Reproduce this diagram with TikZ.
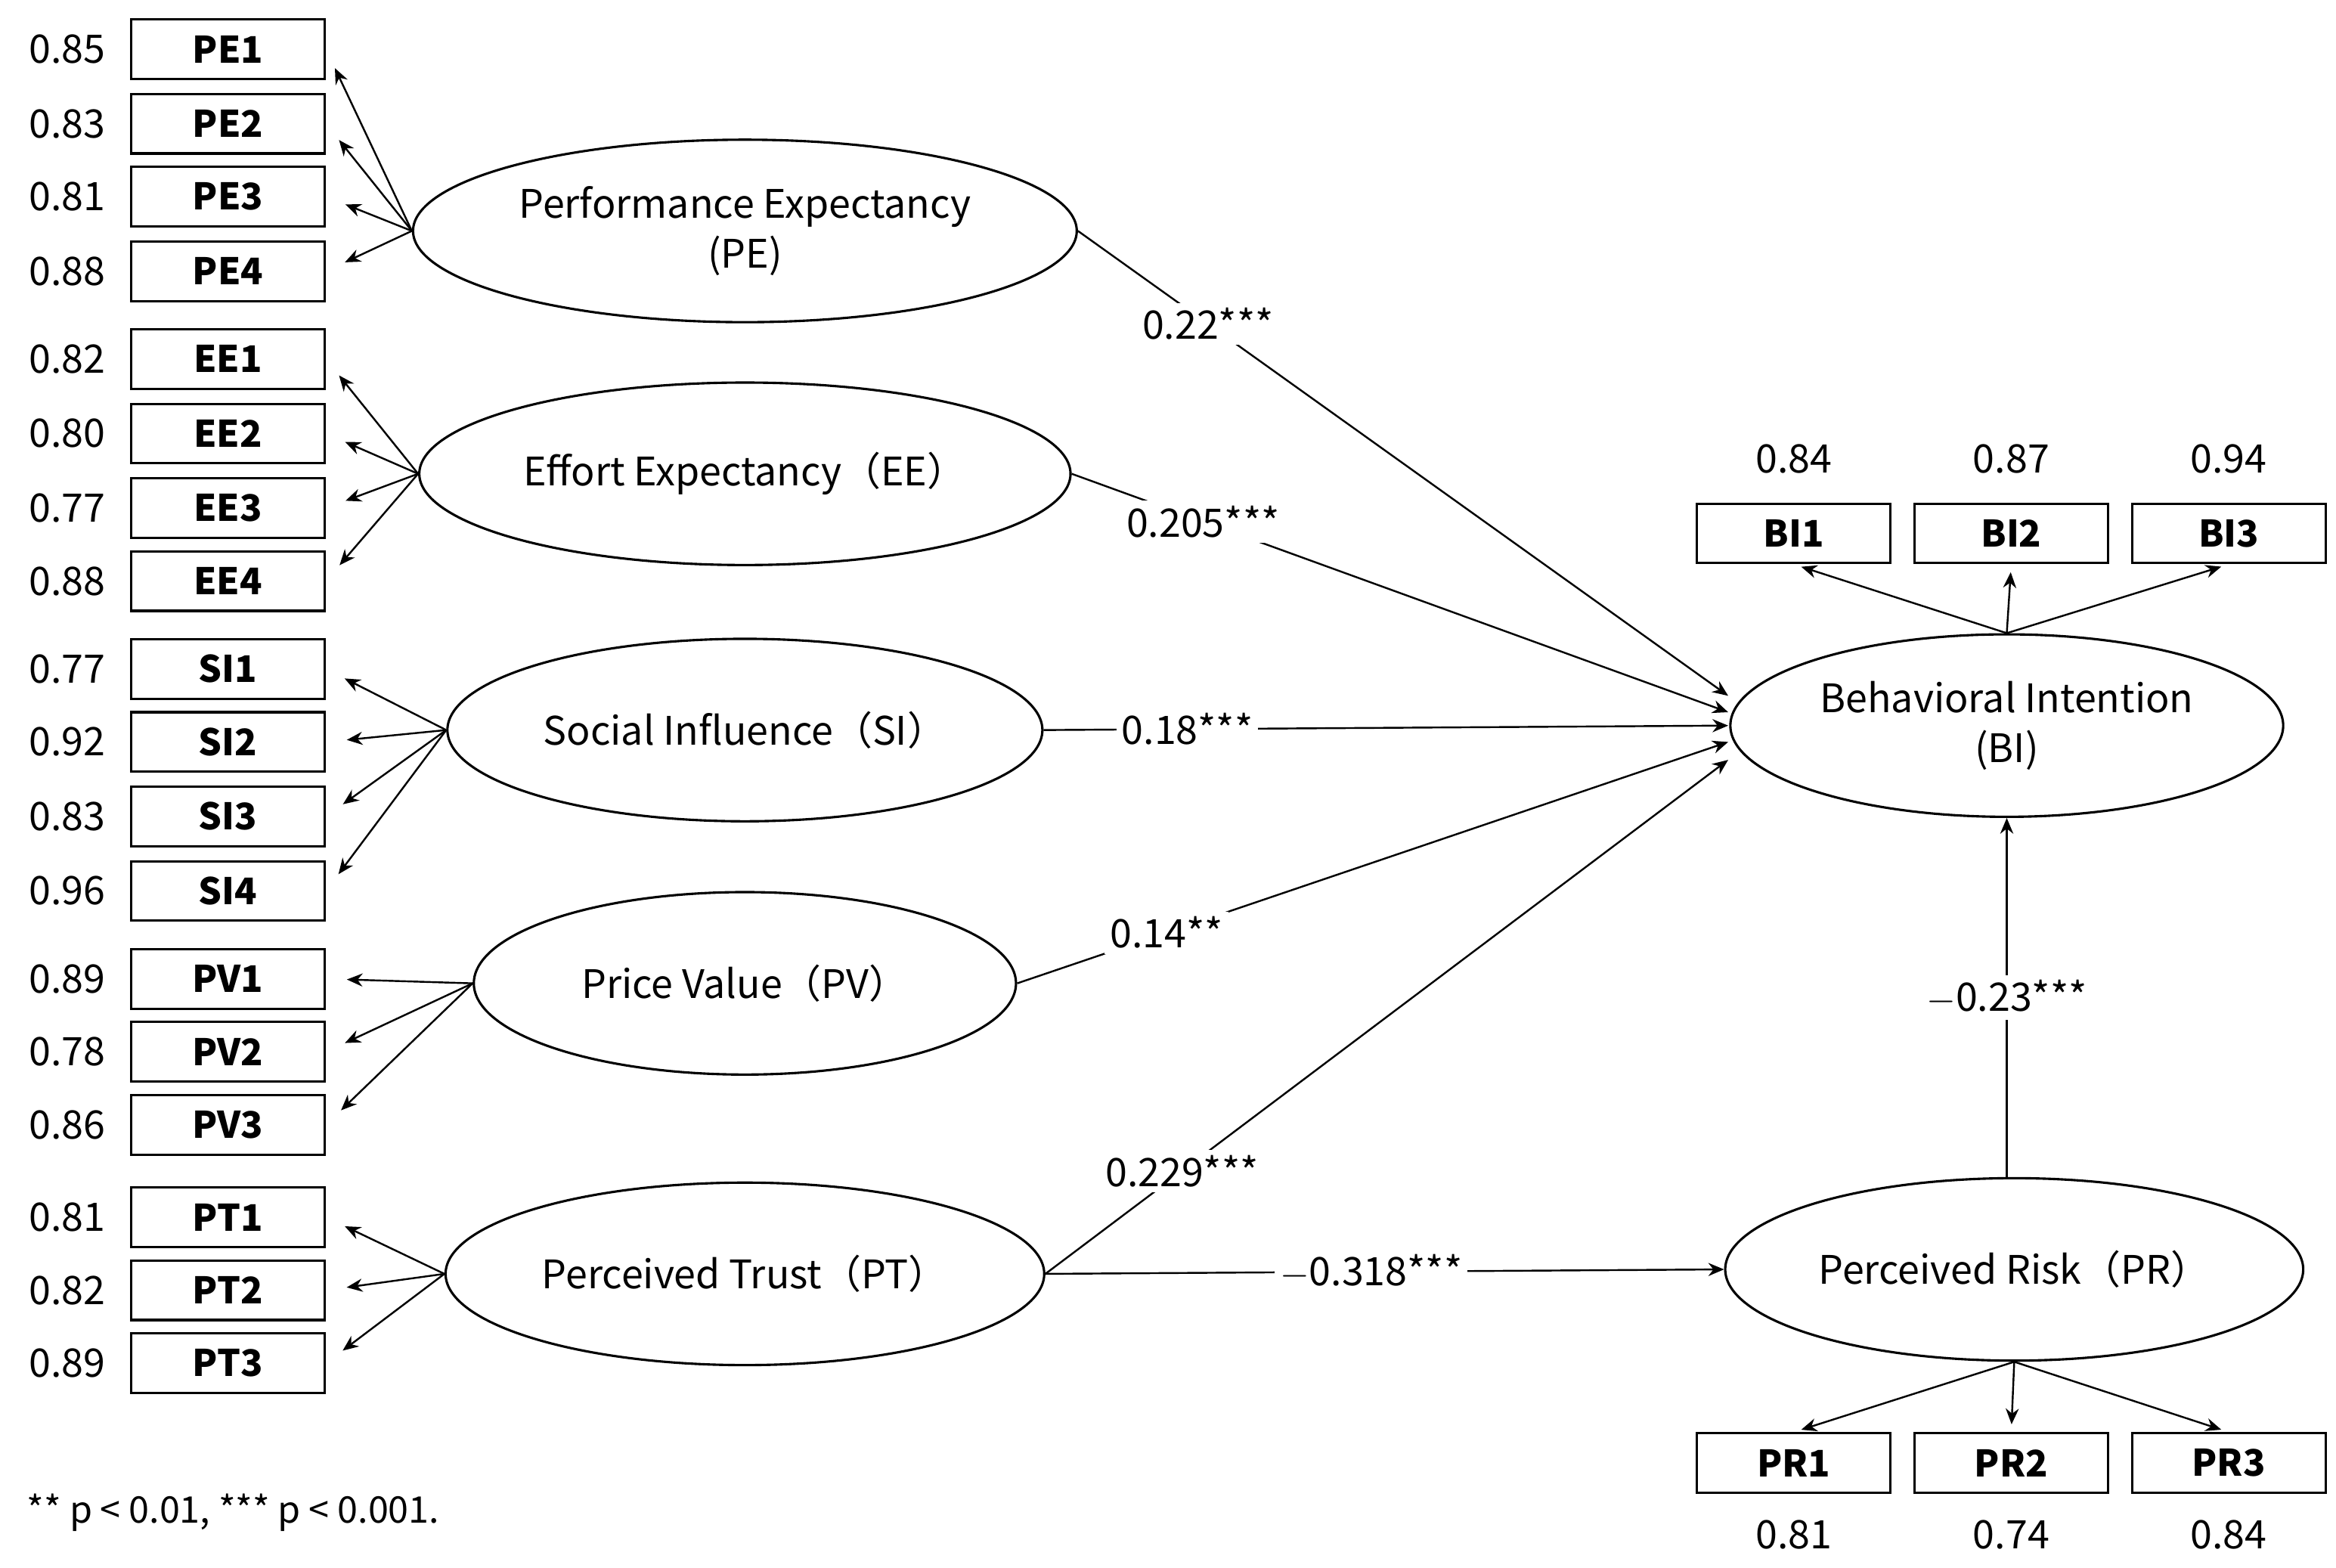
\documentclass[tikz,border=0pt]{standalone}
\usepackage{fontspec}
\setmainfont{Noto Sans CJK SC}
\usetikzlibrary{shapes.geometric,arrows.meta}
\begin{document}
\begin{tikzpicture}[x=0.02cm,y=-0.02cm,
  ind/.style={draw,line width=0.9pt,minimum width=2.6cm,minimum height=0.8cm,inner sep=0pt,font=\fontsize{14}{16}\selectfont\bfseries},
  lat/.style={draw,ellipse,line width=0.9pt,minimum width=7.28cm,minimum height=2.45cm,align=center,font=\fontsize{15}{19}\selectfont},
  num/.style={font=\fontsize{15}{17}\selectfont},
  arr/.style={-{Stealth[length=6pt,width=5pt]},line width=0.7pt},
  lab/.style={fill=white,inner sep=2pt,font=\fontsize{15}{17}\selectfont}]
\useasboundingbox (0,0) rectangle (1568,1052);
% left indicators
\foreach \n/\y/\v in {PE1/33/0.85,PE2/83/0.83,PE3/132/0.81,PE4/182/0.88,EE1/241/0.82,EE2/291/0.80,EE3/341/0.77,EE4/390/0.88,SI1/449/0.77,SI2/498/0.92,SI3/548/0.83,SI4/598/0.96,PV1/657/0.89,PV2/706/0.78,PV3/755/0.86,PT1/817/0.81,PT2/866/0.82,PT3/915/0.89}{
  \node[ind] (\n) at (153,\y) {\n};
  \node[num] (v\n) at (45,\y) {\v};
}
\node[lat] (PE) at (500,155) {Performance Expectancy\\(PE)};
\node[lat] (EE) at (500,318) {Effort Expectancy（EE）};
\node[lat] (SI) at (500,490) {Social Influence（SI）};
\node[lat] (PV) at (500,660) {Price Value（PV）};
\node[lat] (PT) at (500,855) {Perceived Trust（PT）};
\node[lat] (BI) at (1347,487) {Behavioral Intention\\(BI)};
\node[lat] (PR) at (1352,852) {Perceived Risk（PR）};
\foreach \l/\a in {PE/PE1,PE/PE2,PE/PE3,PE/PE4,EE/EE1,EE/EE2,EE/EE3,EE/EE4,SI/SI1,SI/SI2,SI/SI3,SI/SI4,PV/PV1,PV/PV2,PV/PV3,PT/PT1,PT/PT2,PT/PT3}
  \draw[arr,shorten >=8pt] (\l.west) -- (\a.east);
% BI indicators
\foreach \n/\x/\v in {BI1/1204/0.84,BI2/1350/0.87,BI3/1496/0.94}{
  \node[ind] (\n) at (\x,358) {\n};
  \node[num] (v\n) at (\x,308) {\v};
  \draw[arr,shorten >=3pt] (BI.north) -- (\n.south);
}
\foreach \n/\x/\v in {PR1/1204/0.81,PR2/1350/0.74,PR3/1496/0.84}{
  \node[ind] (\n) at (\x,982) {\n};
  \node[num] (v\n) at (\x,1030) {\v};
  \draw[arr,shorten >=3pt] (PR.south) -- (\n.north);
}
\coordinate (b1) at (1160,467);
\coordinate (b2) at (1160,478);
\coordinate (b3) at (1160,487);
\coordinate (b4) at (1160,498);
\coordinate (b5) at (1160,510);
\draw[arr] (PE.east) -- node[lab,pos=0.2] {0.22***} (b1);
\draw[arr] (EE.east) -- node[lab,pos=0.2] {0.205***} (b2);
\draw[arr] (SI.east) -- node[lab,pos=0.21] {0.18***} (b3);
\draw[arr] (PV.east) -- node[lab,pos=0.21] {0.14**} (b4);
\draw[arr] (PT.east) -- node[lab,pos=0.2] {0.229***} (b5);
\draw[arr] (PT.east) -- node[lab,pos=0.48] {$-$0.318***} (PR.west);
\draw[arr] (PR.north -| BI.south) -- node[lab] {$-$0.23***} (BI.south);
\node[anchor=west,font=\fontsize{14}{16}\selectfont\itshape] (fn) at (12,1015) {** p < 0.01, *** p < 0.001.};
\end{tikzpicture}
\end{document}
